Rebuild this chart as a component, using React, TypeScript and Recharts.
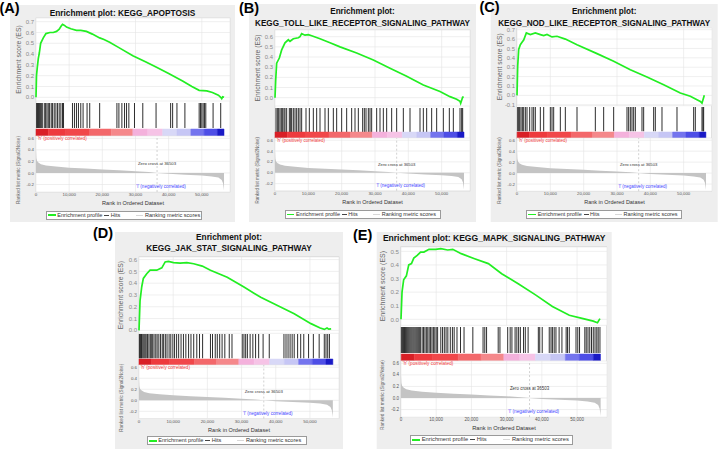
import React from 'react';
import {
  LineChart, Line, AreaChart, Area, ComposedChart, XAxis, YAxis, CartesianGrid,
  ReferenceLine, ReferenceArea, ReferenceDot,
} from 'recharts';

const FONT = '"Liberation Sans", Arial, Helvetica, sans-serif';

const X_MAX = 58500;
const X_TICKS = [0, 10000, 20000, 30000, 40000, 50000];
const ZERO_CROSS = 36503;
const METRIC_TICKS = [-0.2, 0, 0.2, 0.4, 0.6];

// ranked list metric (Signal2Noise) - same ranked dataset in every panel
const METRIC_RANKS = [0, 100, 300, 700, 1500, 3000, 6000, 10000, 15000, 20000, 25000, 30000, 34000, 36503, 40000, 45000, 50000, 53000, 55000, 56000, 56400, 56600, 56700];
const METRIC_VALUES = [0.4, 0.26, 0.21, 0.18, 0.15, 0.13, 0.11, 0.09, 0.075, 0.06, 0.045, 0.03, 0.015, 0, -0.015, -0.03, -0.045, -0.06, -0.08, -0.12, -0.18, -0.26, -0.31];

// colour bar under the hits
const BAND_EDGES = [0, 3700, 9000, 16200, 22700, 29200, 33700, 38200, 42500, 46700, 50700, 54700, 56700];
const BAND_COLORS = ['#d91f26', '#ee3a3e', '#f1474a', '#f3686b', '#f5888b', '#f4b1dc', '#f6c3e6', '#d8d8f7', '#c6c6f5', '#7474ee', '#4e4ee6', '#1a1ac6'];

// running enrichment scores [rank, ES]
const ES_A: [number, number][] = [[0, 0], [150, 0.2], [400, 0.28], [700, 0.36], [1000, 0.41], [1400, 0.5], [2200, 0.55], [3000, 0.59], [4200, 0.6], [5200, 0.6], [6200, 0.61], [7000, 0.63], [7600, 0.66], [8000, 0.675], [8600, 0.665], [9200, 0.65], [10500, 0.635], [12200, 0.62], [13500, 0.62], [15200, 0.61], [17000, 0.585], [19200, 0.55], [20500, 0.535], [22200, 0.51], [25000, 0.46], [29200, 0.385], [33000, 0.33], [36200, 0.28], [40000, 0.22], [44200, 0.15], [47000, 0.1], [49200, 0.065], [51500, 0.06], [53200, 0.045], [55000, 0.02], [55700, 0], [56000, -0.012], [56300, 0.005], [56700, 0]];
const ES_B: [number, number][] = [[0, 0], [200, 0.17], [500, 0.34], [1300, 0.39], [2000, 0.47], [3000, 0.54], [4000, 0.57], [4500, 0.555], [5500, 0.58], [7000, 0.59], [7500, 0.6], [8000, 0.63], [9000, 0.615], [10000, 0.62], [11000, 0.61], [13500, 0.58], [16500, 0.54], [19500, 0.5], [24500, 0.44], [29500, 0.37], [34500, 0.29], [39500, 0.21], [44500, 0.125], [49500, 0.06], [52500, 0.01], [54500, -0.016], [55500, -0.035], [55700, -0.055], [56000, -0.025], [56300, 0.005], [56600, 0.01]];
const ES_C: [number, number][] = [[0, 0], [200, 0.31], [500, 0.49], [1000, 0.54], [1500, 0.565], [2000, 0.59], [2800, 0.665], [4000, 0.648], [5500, 0.665], [7000, 0.648], [8000, 0.637], [9000, 0.65], [10500, 0.623], [12000, 0.63], [14500, 0.6], [18000, 0.54], [24000, 0.445], [29000, 0.363], [34000, 0.274], [39000, 0.196], [44000, 0.114], [49000, 0.025], [52000, -0.01], [54000, -0.046], [55000, -0.064], [55500, -0.082], [55800, -0.046], [56200, 0]];
const ES_D: [number, number][] = [[0, 0], [300, 0.25], [800, 0.37], [1270, 0.44], [2260, 0.48], [3240, 0.51], [5200, 0.51], [6670, 0.53], [7650, 0.58], [8600, 0.585], [10100, 0.575], [12000, 0.57], [14000, 0.575], [16000, 0.565], [18500, 0.545], [20900, 0.51], [25800, 0.45], [30700, 0.367], [35600, 0.28], [40500, 0.21], [45400, 0.14], [50300, 0.057], [53000, 0.02], [54200, 0.008], [55000, 0.02], [55500, 0.01], [56200, 0.012]];
const ES_E: [number, number][] = [[0, 0], [290, 0.2], [750, 0.29], [1530, 0.32], [2200, 0.4], [2970, 0.41], [3630, 0.45], [4600, 0.47], [5560, 0.495], [6500, 0.495], [7950, 0.515], [9880, 0.515], [11300, 0.52], [13250, 0.51], [14700, 0.515], [17100, 0.483], [20900, 0.446], [24800, 0.41], [28600, 0.335], [33400, 0.26], [38200, 0.18], [43000, 0.095], [47800, 0.03], [51700, 0.005], [54600, -0.013], [55800, -0.025], [56500, 0.005]];

// gene set hit positions (rank)
const HITS_A = [200, 400, 600, 800, 1100, 1300, 1600, 1900, 2500, 2900, 3300, 3700, 4100, 4600, 5000, 5500, 6000, 6500, 7000, 7500, 8000, 8300, 11000, 11600, 12200, 12800, 13500, 14200, 15400, 16200, 19200, 24400, 25000, 25900, 26700, 27300, 28000, 29700, 32200, 36200, 40600, 41200, 42500, 44900, 49200, 49600, 50000, 50400, 50800, 51200, 53400, 55700];
const HITS_B = [300, 700, 1100, 1500, 1900, 2300, 2700, 3000, 3500, 4300, 4700, 5000, 5500, 6000, 6500, 7000, 7500, 8000, 9300, 10300, 11500, 12500, 13500, 15000, 16000, 17500, 18500, 20000, 21500, 23000, 24000, 25000, 26300, 26800, 27300, 28000, 28500, 29000, 30500, 31500, 32500, 33500, 35000, 36500, 38500, 40500, 43500, 44500, 45500, 47000, 48500, 50500, 52300, 53500, 55500, 56000, 56300];
const HITS_C = [200, 500, 800, 1200, 1600, 2000, 2500, 3000, 3800, 4500, 5000, 5500, 7000, 8000, 10000, 10500, 11000, 13000, 14500, 18000, 23500, 26000, 29000, 33000, 33500, 34000, 34500, 35000, 35500, 37500, 38000, 41000, 41500, 43500, 48000, 53000, 53500, 55500, 55800, 56000];
const HITS_D = [100, 300, 500, 700, 900, 1200, 1500, 1800, 2100, 2500, 2900, 3300, 3600, 4000, 4400, 4900, 5300, 5800, 6300, 6800, 7200, 7700, 8200, 8800, 9300, 9900, 10400, 11000, 11600, 12300, 13000, 13700, 14500, 15200, 16000, 16900, 17700, 18600, 20900, 21500, 22300, 22900, 23600, 24300, 25100, 26400, 27200, 30200, 30700, 31200, 31700, 32500, 33300, 34100, 35000, 36300, 38100, 42400, 43000, 43600, 44200, 44800, 45400, 46400, 47300, 48200, 49600, 51000, 52700, 54200, 54700, 55200, 55700];
const HITS_E = [100, 400, 700, 1000, 1300, 1600, 1900, 2200, 2500, 2800, 3100, 3400, 3700, 4000, 4300, 4600, 4900, 5200, 5500, 6000, 6400, 6800, 7200, 7600, 8000, 8400, 8800, 9200, 9600, 10000, 10400, 11300, 11800, 12300, 12800, 13300, 14000, 14600, 15100, 15900, 16900, 17900, 20400, 23300, 23800, 24300, 27600, 28100, 30300, 31000, 31500, 32400, 32900, 33400, 33900, 34800, 35300, 36100, 39000, 39400, 40100, 42100, 42600, 43000, 43500, 44000, 44900, 45700, 46900, 47300, 47800, 49700, 50200, 50700, 52200, 52600, 53100, 53600, 54100, 54600, 55100, 55600, 56000, 56500];

type Panel = {
  key: string;
  label: string;
  labelX: number;
  labelY: number;
  bg: [number, number, number, number];
  title: string[];
  titleY: number[];
  plotLeft: number;
  plotWidth: number;
  esTop: number;
  esBottom: number;
  esDomain: [number, number];
  esTicks: number[];
  hitsTop: number;
  hitsBottom: number;
  barTop: number;
  barBottom: number;
  metricBottom: number;
  legendX: number;
  legendY: number;
  legendW: number;
  s: number;
  es: [number, number][];
  hits: number[];
};

const PANELS: Panel[] = [
  {
    key: 'A', label: '(A)', labelX: -0.5, labelY: 12.5, bg: [10, 5, 225, 217],
    title: ['Enrichment plot: KEGG_APOPTOSIS'], titleY: [16],
    plotLeft: 36, plotWidth: 194, esTop: 18, esBottom: 101, esDomain: [-0.034, 0.734],
    esTicks: [0, 0.1, 0.2, 0.3, 0.4, 0.5, 0.6, 0.7],
    hitsTop: 103, hitsBottom: 128, barTop: 129, barBottom: 136, metricBottom: 192,
    legendX: 45.7, legendY: 210.7, legendW: 156, s: 1, es: ES_A, hits: HITS_A,
  },
  {
    key: 'B', label: '(B)', labelX: 239, labelY: 12.5, bg: [249, 4, 227, 218],
    title: ['Enrichment plot:', 'KEGG_TOLL_LIKE_RECEPTOR_SIGNALING_PATHWAY'], titleY: [14, 25.7],
    plotLeft: 275, plotWidth: 195, esTop: 30, esBottom: 106, esDomain: [-0.082, 0.666],
    esTicks: [0, 0.1, 0.2, 0.3, 0.4, 0.5, 0.6],
    hitsTop: 107.7, hitsBottom: 131.7, barTop: 132.3, barBottom: 138.3, metricBottom: 191,
    legendX: 284.7, legendY: 210, legendW: 156, s: 0.98, es: ES_B, hits: HITS_B,
  },
  {
    key: 'C', label: '(C)', labelX: 479.5, labelY: 12, bg: [490.7, 4, 227, 218],
    title: ['Enrichment plot:', 'KEGG_NOD_LIKE_RECEPTOR_SIGNALING_PATHWAY'], titleY: [14, 25.7],
    plotLeft: 516.7, plotWidth: 195, esTop: 28.3, esBottom: 106, esDomain: [-0.11, 0.718],
    esTicks: [-0.1, 0, 0.1, 0.2, 0.3, 0.4, 0.5, 0.6, 0.7],
    hitsTop: 106.7, hitsBottom: 131, barTop: 131.7, barBottom: 138.3, metricBottom: 191.5,
    legendX: 526.4, legendY: 210, legendW: 156, s: 0.98, es: ES_C, hits: HITS_C,
  },
  {
    key: 'D', label: '(D)', labelX: 93, labelY: 238, bg: [115, 232, 228, 217],
    title: ['Enrichment plot:', 'KEGG_JAK_STAT_SIGNALING_PATHWAY'], titleY: [240, 251],
    plotLeft: 139, plotWidth: 200, esTop: 256.7, esBottom: 333, esDomain: [-0.025, 0.622],
    esTicks: [0, 0.1, 0.2, 0.3, 0.4, 0.5, 0.6],
    hitsTop: 334, hitsBottom: 358.3, barTop: 359, barBottom: 365, metricBottom: 418.5,
    legendX: 146.7, legendY: 436, legendW: 160, s: 1, es: ES_D, hits: HITS_D,
  },
  {
    key: 'E', label: '(E)', labelX: 353, labelY: 239.5, bg: [376.7, 232, 235, 217],
    title: ['Enrichment plot: KEGG_MAPK_SIGNALING_PATHWAY'], titleY: [240.8],
    plotLeft: 400.7, plotWidth: 206, esTop: 246.7, esBottom: 325, esDomain: [-0.044, 0.532],
    esTicks: [0, 0.1, 0.2, 0.3, 0.4, 0.5],
    hitsTop: 327.3, hitsBottom: 353.3, barTop: 354, barBottom: 360.7, metricBottom: 416.8,
    legendX: 410, legendY: 435, legendW: 163, s: 1.03, es: ES_E, hits: HITS_E,
  },
];

const NO_MARGIN = { top: 0, right: 0, bottom: 0, left: 0 };
const Y_W = 26;

// rotated axis title drawn from the axis viewBox
const axisTitle = (text: string, size: number, dx: number, dy: number, color: string) =>
  (props: any) => {
    const vb = props.viewBox || {};
    const cx = vb.x + vb.width - dx;
    const cy = vb.y + vb.height / 2 + dy;
    return (
      <text x={cx} y={cy} transform={`rotate(-90 ${cx} ${cy})`} textAnchor="middle"
        dominantBaseline="central" fontSize={size} fill={color}>{text}</text>
    );
  };

function PanelFrame({ p }: { p: Panel }) {
  const [bx, by, bw, bh] = p.bg;
  const cx = bx + bw / 2;
  return (
    <g>
      <rect x={bx} y={by} width={bw} height={bh} fill="#eeeeee" />
      <rect x={p.plotLeft} y={p.esTop} width={p.plotWidth} height={p.metricBottom - p.esTop}
        fill="#ffffff" stroke="#d0d0d0" strokeWidth={0.6} />
      {p.title.map((t, i) => (
        <text key={i} x={cx} y={p.titleY[i]} textAnchor="middle" fontSize={8.3 * p.s}
          fontWeight="bold" fill="#111">{t}</text>
      ))}
    </g>
  );
}

function PanelLabel({ p }: { p: Panel }) {
  return <text x={p.labelX} y={p.labelY} fontSize={14.5} fontWeight="bold" fill="#000">{p.label}</text>;
}

function GseaLegend({ p }: { p: Panel }) {
  const s = p.s;
  const sample = (w: number, h: number, c: string, ml: number, mr: number) => (
    <span style={{ display: 'inline-block', width: w * s, height: h, background: c, marginLeft: ml * s, marginRight: mr * s }} />
  );
  return (
    <div style={{
      position: 'absolute', left: p.legendX, top: p.legendY, width: p.legendW, height: 9.3 * s,
      border: '1px solid #9a9a9a', background: '#fff', boxSizing: 'border-box', display: 'flex',
      alignItems: 'center', fontSize: 5.6 * s, color: '#333', whiteSpace: 'nowrap', lineHeight: 1,
    }}>
      {sample(8, 1.8, '#22ee22', 1, 1.5)}
      <span>Enrichment profile</span>
      {sample(5, 0.8, '#444', 2, 1.5)}
      <span>Hits</span>
      {sample(7, 0.8, '#d8d8d8', 15.5, 2)}
      <span>Ranking metric scores</span>
    </div>
  );
}

function PanelCharts({ p }: { p: Panel }) {
  const s = p.s;
  const esData = p.es.map(([rank, es]) => ({ rank, es }));
  const hitData = p.hits.map((rank) => ({ rank, v: 0 }));
  const bandData = BAND_EDGES.map((rank) => ({ rank, v: 0 }));
  const metricData = METRIC_RANKS.map((rank, i) => ({ rank, m: METRIC_VALUES[i] }));
  const xH = 15;
  const gridColor = '#e4e4e4';
  const smallFont = 4.4 * s;

  return (
    <>
      {/* running enrichment score */}
      <div style={{ position: 'absolute', left: p.plotLeft - Y_W, top: p.esTop }}>
        <LineChart width={Y_W + p.plotWidth} height={p.esBottom - p.esTop} data={esData} margin={NO_MARGIN}>
          <CartesianGrid stroke={gridColor} strokeWidth={0.6} fill="#fff" />
          <XAxis type="number" dataKey="rank" domain={[0, X_MAX]} ticks={X_TICKS} hide />
          <YAxis type="number" domain={p.esDomain} ticks={p.esTicks} interval={0} width={Y_W}
            allowDataOverflow tickLine={false} axisLine={false} tickSize={2} tickMargin={0}
            tick={{ fontSize: 6 * s, fill: '#8a8a8a' }} tickFormatter={(v: number) => v.toFixed(1)}
            label={{ content: axisTitle('Enrichment score (ES)', 6.8 * s, 18 * s, 0, '#666') }} />
          <Line type="linear" dataKey="es" stroke="#22ee22" strokeWidth={1.7} dot={false}
            isAnimationActive={false} />
        </LineChart>
      </div>

      {/* hits */}
      <div style={{ position: 'absolute', left: p.plotLeft, top: p.hitsTop }}>
        <ComposedChart width={p.plotWidth} height={p.hitsBottom - p.hitsTop} data={hitData} margin={NO_MARGIN}>
          <XAxis type="number" dataKey="rank" domain={[0, X_MAX]} hide />
          <YAxis type="number" domain={[0, 1]} hide />
          <Line type="linear" dataKey="v" stroke="none" dot={false} activeDot={false} isAnimationActive={false} />
          {p.hits.map((r) => (
            <ReferenceLine key={r} x={r} stroke="#161616" strokeWidth={0.9} />
          ))}
        </ComposedChart>
      </div>

      {/* colour bar */}
      <div style={{ position: 'absolute', left: p.plotLeft, top: p.barTop }}>
        <ComposedChart width={p.plotWidth} height={p.barBottom - p.barTop} data={bandData} margin={NO_MARGIN}>
          <XAxis type="number" dataKey="rank" domain={[0, X_MAX]} hide />
          <YAxis type="number" domain={[0, 1]} hide />
          <Line type="linear" dataKey="v" stroke="none" dot={false} activeDot={false} isAnimationActive={false} />
          {BAND_COLORS.map((c, i) => (
            <ReferenceArea key={i} x1={BAND_EDGES[i]} x2={BAND_EDGES[i + 1]} y1={0} y2={1}
              fill={c} fillOpacity={1} stroke={c} strokeWidth={0.5} />
          ))}
        </ComposedChart>
      </div>

      {/* ranked list metric */}
      <div style={{ position: 'absolute', left: p.plotLeft - Y_W, top: p.barBottom }}>
        <AreaChart width={Y_W + p.plotWidth} height={p.metricBottom - p.barBottom + xH} data={metricData} margin={NO_MARGIN}>
          <CartesianGrid stroke={gridColor} strokeWidth={0.6} fill="#fff" />
          <XAxis type="number" dataKey="rank" domain={[0, X_MAX]} ticks={X_TICKS} interval={0} height={xH}
            tickLine={false} axisLine={false} tickSize={1} tickMargin={0}
            tick={{ fontSize: smallFont, fill: '#555' }}
            tickFormatter={(v: number) => v.toLocaleString('en-US')}
            label={{ value: 'Rank in Ordered Dataset', position: 'insideBottom', offset: xH - 13, fontSize: 5.6 * s, fill: '#333' }} />
          <YAxis type="number" domain={[-0.33, 0.64]} ticks={METRIC_TICKS} interval={0} width={Y_W}
            allowDataOverflow tickLine={false} axisLine={false} tickSize={2} tickMargin={0}
            tick={{ fontSize: smallFont, fill: '#555' }} tickFormatter={(v: number) => v.toFixed(1)}
            label={{ content: axisTitle('Ranked list metric (Signal2Noise)', 4.6 * s, 18 * s, 6, '#666') }} />
          <Area type="linear" dataKey="m" stroke="none" fill="#c4c4c4" fillOpacity={1}
            isAnimationActive={false} />
          <ReferenceLine x={ZERO_CROSS} stroke="#b4b4b4" strokeWidth={0.6} strokeDasharray="2 2" />
          <ReferenceDot x={ZERO_CROSS} y={0.16} r={0} fill="none" stroke="none"
            label={{ value: 'Zero cross at 36503', position: 'center', fontSize: 4.3 * s, fill: '#333' }} />
          <ReferenceDot x={37700} y={-0.235} r={0} fill="none" stroke="none"
            label={{ value: "'l' (negatively correlated)", position: 'center', fontSize: 4.6 * s, fill: '#4444ff' }} />
          <ReferenceDot x={500} y={0.6} r={0} fill="none" stroke="none"
            label={{ value: "'h' (positively correlated)", position: 'right', offset: 0, fontSize: 4.6 * s, fill: '#f03c3c' }} />
        </AreaChart>
      </div>

      <GseaLegend p={p} />
    </>
  );
}

export default function App() {
  return (
    <div style={{
      position: 'absolute', left: 0, top: 0, width: 720, height: 449, background: '#fff',
      fontFamily: FONT, overflow: 'hidden',
    }}>
      <style>{'.recharts-surface { overflow: visible; }'}</style>
      <svg width={720} height={449} style={{ position: 'absolute', left: 0, top: 0 }}>
        {PANELS.map((p) => <PanelFrame key={p.key} p={p} />)}
        {PANELS.map((p) => <PanelLabel key={p.key} p={p} />)}
      </svg>
      {PANELS.map((p) => <PanelCharts key={p.key} p={p} />)}
    </div>
  );
}
